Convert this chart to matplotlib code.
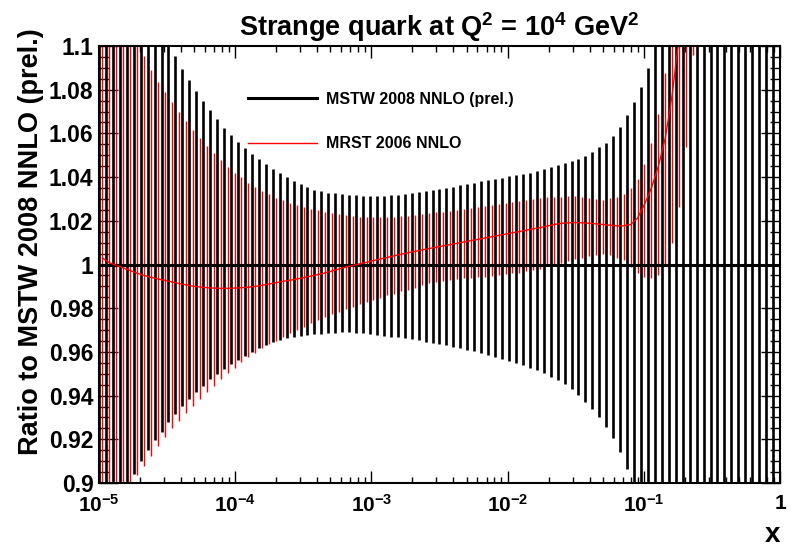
import numpy as np
import matplotlib.pyplot as plt
from matplotlib.lines import Line2D
from matplotlib.ticker import FixedLocator, MultipleLocator, LogLocator, FuncFormatter, NullFormatter

plt.rcParams['font.family'] = ['Liberation Sans', 'DejaVu Sans']
plt.rcParams['font.weight'] = 'bold'
plt.rcParams['mathtext.fontset'] = 'custom'
plt.rcParams['mathtext.bf'] = 'Liberation Sans:bold'
plt.rcParams['mathtext.rm'] = 'Liberation Sans:bold'
plt.rcParams['mathtext.default'] = 'bf'

# ----- x grid (99 points, log spaced from 1e-5 to 1) -----
x_grid = np.logspace(-5, 0, 99)

# ----- MSTW 2008 NNLO (prel.) error band, ratio to its own central value -----
mstw_up = [
    1.25, 1.23, 1.21, 1.19, 1.17, 1.155, 1.14, 1.13, 1.12, 1.11, 1.102,
    1.0954, 1.0896, 1.0844, 1.0796, 1.075, 1.0707, 1.0665, 1.0623, 1.0591, 1.056,
    1.0533, 1.0506, 1.0481, 1.0459, 1.0437, 1.0417, 1.0400, 1.0384, 1.0368, 1.0354,
    1.0343, 1.0335, 1.0329, 1.0325,
    1.0323, 1.0320, 1.0318, 1.0315, 1.0314, 1.0314, 1.0315, 1.0317, 1.0320, 1.0323,
    1.0326, 1.0330, 1.0335, 1.0340, 1.0346, 1.0352, 1.0356, 1.0362, 1.0368, 1.0374,
    1.0380, 1.0385, 1.0391, 1.0397, 1.0403, 1.0410, 1.0416, 1.0420, 1.0426,
    1.0437, 1.0448, 1.0454, 1.0463, 1.0473, 1.0484, 1.0498, 1.0515, 1.0536, 1.0557,
    1.0589, 1.0631, 1.0684, 1.0745, 1.0814, 1.0898,
    1.105, 1.12, 1.135, 1.15, 1.17, 1.19, 1.21, 1.23, 1.25, 1.28, 1.31, 1.34, 1.38,
    1.42, 1.47, 1.52, 1.58, 1.65, 1.75,
]
mstw_lo = [
    0.86, 0.875, 0.885, 0.893, 0.899,
    0.904, 0.910, 0.915, 0.9196, 0.9235, 0.928, 0.9317, 0.9354, 0.9386,
    0.9418, 0.9445, 0.9476, 0.950, 0.9523, 0.9545, 0.9564, 0.9583, 0.9601, 0.9616,
    0.9632, 0.9644, 0.9653, 0.9662, 0.9668, 0.9673, 0.9677, 0.9682, 0.9683, 0.9687,
    0.9688, 0.969, 0.969,
    0.9687, 0.9685, 0.968, 0.9677, 0.9674, 0.967, 0.9667, 0.9662, 0.9658, 0.9653,
    0.9647, 0.9642, 0.9636, 0.963, 0.9624,
    0.9617, 0.961, 0.9603, 0.9595, 0.9587, 0.9578, 0.9569, 0.956, 0.955, 0.954,
    0.9528, 0.9517, 0.9502, 0.9487, 0.9471, 0.9452, 0.9429, 0.9401, 0.9372, 0.9337,
    0.9301, 0.9255, 0.9205, 0.9143, 0.9063,
    0.895, 0.88, 0.865, 0.85, 0.83, 0.81, 0.79, 0.77, 0.75, 0.72, 0.69, 0.66, 0.63,
    0.6, 0.56, 0.52, 0.48, 0.44, 0.4, 0.35, 0.3, 0.25,
]
mstw_central = np.ones_like(x_grid)

# ----- MRST 2006 NNLO, ratio to MSTW 2008 NNLO -----
mrst_up = [
    1.2, 1.17, 1.15, 1.13, 1.115, 1.103,
    1.0954, 1.089, 1.0837, 1.0788, 1.0744, 1.070, 1.0657, 1.0617, 1.058, 1.0544,
    1.051, 1.0478, 1.0448, 1.042, 1.0399, 1.0374, 1.0356, 1.0338, 1.0323, 1.0306,
    1.0295, 1.028, 1.0272, 1.0262, 1.0254, 1.0248, 1.0242, 1.0237, 1.0233,
    1.0227, 1.0223, 1.0219, 1.0218, 1.0217, 1.0217, 1.0218, 1.0219, 1.0222, 1.0223,
    1.0228, 1.0231, 1.0236, 1.0239, 1.0242, 1.0246, 1.0251, 1.0256, 1.026, 1.0265,
    1.0269, 1.0274, 1.0278, 1.0281, 1.0286, 1.0291,
    1.0295, 1.030, 1.0303, 1.0308, 1.031, 1.031, 1.0315, 1.0315, 1.031, 1.0303,
    1.030, 1.0295, 1.0303, 1.031, 1.0323, 1.0349, 1.039, 1.0459, 1.0555, 1.0687,
    1.0878, 1.105, 1.125, 1.15, 1.18,
]
mrst_lo = [
    0.87, 0.88, 0.888, 0.894, 0.899,
    0.9035, 0.908, 0.9125, 0.917, 0.921, 0.925, 0.9285, 0.932,
    0.9352, 0.9384, 0.9415, 0.9445, 0.9475, 0.9502, 0.9528, 0.9552, 0.9575, 0.9596,
    0.9616, 0.9635, 0.9651, 0.9668, 0.9685, 0.970, 0.9715, 0.9731, 0.9745, 0.9758,
    0.9773, 0.9781, 0.9795, 0.9807,
    0.9818, 0.9827, 0.9838, 0.9848, 0.9859, 0.9867, 0.9877, 0.9885, 0.9894, 0.9906,
    0.9914, 0.992, 0.9926, 0.9929, 0.9932, 0.9937, 0.9937, 0.9941, 0.9944, 0.9947,
    0.995, 0.9957, 0.996, 0.9963,
    0.997, 0.9975, 0.998, 0.9998, 1.0, 1.0005, 1.0016, 1.0024, 1.0031, 1.0039,
    1.0043, 1.0048, 1.0043, 1.0028, 1.002, 0.9987, 0.9963, 0.9944, 0.9937, 0.9952,
    0.9998, 1.0097, 1.0265, 1.0539, 1.0959,
]
mrst_central = [
    1.003, 1.0008, 0.9996, 0.9984, 0.9972, 0.996, 0.995, 0.9941, 0.9934, 0.9927,
    0.992, 0.9913, 0.9907, 0.9901, 0.9897, 0.9894, 0.9892, 0.9891, 0.9891, 0.9892,
    0.9894, 0.9896, 0.990, 0.9905, 0.9911, 0.9917, 0.9923, 0.9928, 0.9934, 0.994,
    0.9947, 0.9954, 0.9961, 0.997, 0.9979, 0.9988, 0.9995, 1.0003, 1.001, 1.0018,
    1.0025, 1.0032, 1.004, 1.0047, 1.0054, 1.006, 1.0067, 1.0073, 1.0079, 1.0085,
    1.0091, 1.0097, 1.0103, 1.0109, 1.0115, 1.0121, 1.0127, 1.0133, 1.0139, 1.0145,
    1.0151, 1.0157, 1.0163, 1.0169, 1.0176, 1.0183, 1.0188, 1.0191, 1.0192, 1.0191,
    1.0189, 1.0186, 1.0183, 1.018, 1.0177, 1.0177, 1.0183, 1.0212, 1.0275, 1.035,
    1.045, 1.058, 1.078, 1.105, 1.14, 1.18,
]
# MRST points sit halfway (in log x) between the MSTW points
x_mrst = np.sqrt(x_grid[:-1] * x_grid[1:])[:len(mrst_central)]

y_major = [0.9, 0.92, 0.94, 0.96, 0.98, 1.0, 1.02, 1.04, 1.06, 1.08, 1.1]

# ----- plot -----
fig = plt.figure(figsize=(7.91, 5.47), dpi=100)
ax = fig.add_axes([99/791, 64/547, 681/791, 437/547])

ax.vlines(x_grid, mstw_lo, mstw_up, color='black', linewidth=1.9)
ax.vlines(x_mrst, mrst_lo, mrst_up, color='red', linewidth=1.0)
ax.plot(x_grid, mstw_central, color='black', linewidth=2.2)
ax.plot(x_mrst, mrst_central, color='red', linewidth=1.0)

ax.set_xscale('log')
ax.set_xlim(1e-5, 1)
ax.set_ylim(0.9, 1.1)

ax.yaxis.set_major_locator(FixedLocator(y_major))
ax.yaxis.set_minor_locator(MultipleLocator(0.005))
ax.yaxis.set_major_formatter(FuncFormatter(lambda v, p: '%g' % round(v, 3)))
ax.xaxis.set_major_locator(LogLocator(base=10))
ax.xaxis.set_minor_locator(LogLocator(base=10, subs=np.arange(2, 10)))
ax.xaxis.set_minor_formatter(NullFormatter())
ax.xaxis.set_major_formatter(FuncFormatter(
    lambda v, p: '1' if abs(v - 1) < 1e-9 else r'$10^{%d}$' % round(np.log10(v))))

ax.tick_params(which='both', direction='in', top=True, right=True, width=1.0)
ax.tick_params(axis='x', which='major', length=8.6, pad=8, labelsize=15)
ax.tick_params(axis='x', which='minor', length=4.5)
ax.tick_params(axis='y', which='major', length=13.5, pad=4, labelsize=16.5)
ax.tick_params(axis='y', which='minor', length=7)
for sp in ax.spines.values():
    sp.set_linewidth(1.5)

ax.set_title(r'Strange quark at Q$^2$ = 10$^4$ GeV$^2$', fontsize=19.5,
             fontweight='bold', pad=7)
ax.set_ylabel('Ratio to MSTW 2008 NNLO (prel.)', fontsize=19.5, fontweight='bold',
              ha='right', va='center')
ax.yaxis.label.set_rotation_mode('anchor')
ax.yaxis.set_label_coords(-0.1, 1.041)
ax.set_xlabel('x', fontsize=20, fontweight='bold', ha='right', va='baseline')
ax.xaxis.set_label_coords(1.0, -0.135)

handles = [Line2D([], [], color='black', linewidth=2.2),
           Line2D([], [], color='red', linewidth=1.0)]
ax.legend(handles, ['MSTW 2008 NNLO (prel.)', 'MRST 2006 NNLO'],
          loc='upper left', bbox_to_anchor=(0.219, 0.895), frameon=False,
          borderpad=0, borderaxespad=0, handlelength=4.3, handletextpad=0.6,
          labelspacing=1.85, prop={'weight': 'bold', 'size': 11.5})

fig.savefig('out.png', dpi=100)
